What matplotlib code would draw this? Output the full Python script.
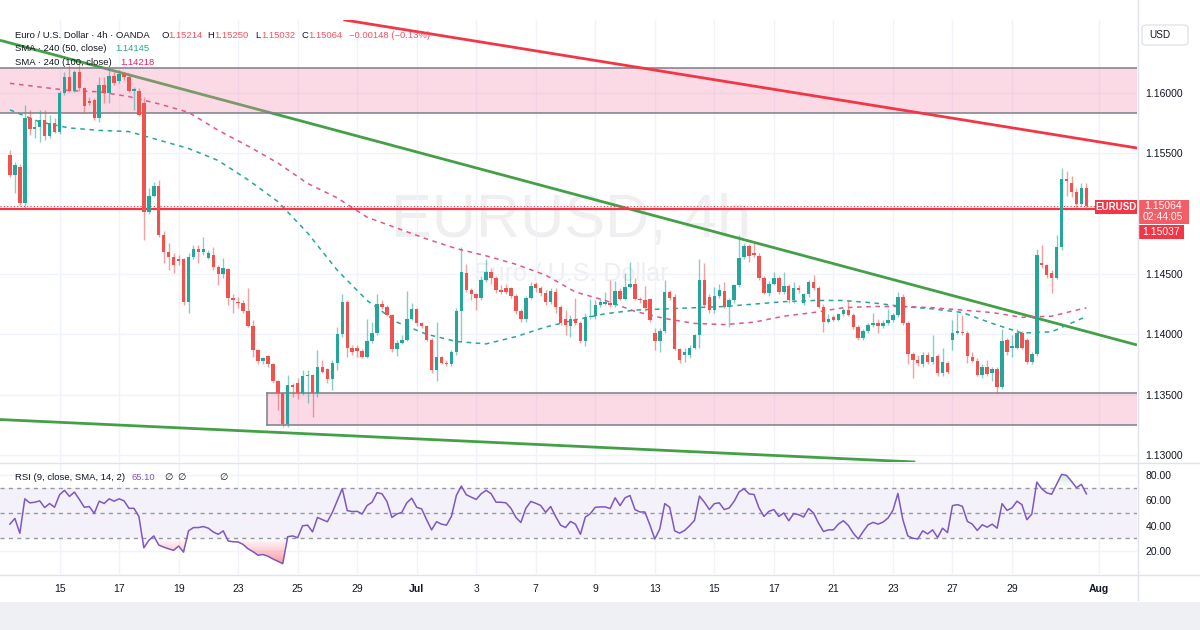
import numpy as np
import matplotlib.pyplot as plt
from matplotlib.patches import Rectangle, FancyBboxPatch, PathPatch
from matplotlib.lines import Line2D
from matplotlib.path import Path
from matplotlib.colors import LinearSegmentedColormap

# EUR/USD 4h candles (OANDA)
opens = [
    1.1549, 1.1532, 1.1539, 1.1509, 1.1579, 1.1570, 1.1572, 1.1578, 1.1564, 1.1575,
    1.1568, 1.1600, 1.1613, 1.1602, 1.1617, 1.1604, 1.1593, 1.1594, 1.1579, 1.1607,
    1.1600, 1.1614, 1.1610, 1.1616, 1.1613, 1.1602, 1.1602, 1.1592, 1.1501, 1.1515,
    1.1523, 1.1482, 1.1468, 1.1464, 1.1462, 1.1462, 1.1427, 1.1464, 1.1471, 1.1468,
    1.1463, 1.1466, 1.1456, 1.1450, 1.1454, 1.1430, 1.1427, 1.1426, 1.1419, 1.1407,
    1.1387, 1.1378, 1.1382, 1.1375, 1.1361, 1.1351, 1.1326, 1.1358, 1.1360, 1.1351,
    1.1365, 1.1366, 1.1351, 1.1373, 1.1371, 1.1363, 1.1376, 1.1400, 1.1427, 1.1389,
    1.1389, 1.1386, 1.1381, 1.1394, 1.1401, 1.1425, 1.1423, 1.1416, 1.1388, 1.1393,
    1.1395, 1.1413, 1.1421, 1.1409, 1.1407, 1.1395, 1.1370, 1.1381, 1.1376, 1.1375,
    1.1385, 1.1419, 1.1451, 1.1437, 1.1433, 1.1430, 1.1445, 1.1452, 1.1447, 1.1437,
    1.1438, 1.1438, 1.1432, 1.1419, 1.1413, 1.1430, 1.1442, 1.1438, 1.1434, 1.1427,
    1.1435, 1.1423, 1.1413, 1.1407, 1.1413, 1.1409, 1.1394, 1.1414, 1.1415, 1.1424,
    1.1425, 1.1426, 1.1424, 1.1436, 1.1429, 1.1439, 1.1442, 1.1429, 1.1428, 1.1429,
    1.1401, 1.1394, 1.1403, 1.1435, 1.1431, 1.1388, 1.1383, 1.1383, 1.1389, 1.1399,
    1.1445, 1.1431, 1.1420, 1.1432, 1.1436, 1.1423, 1.1428, 1.1441, 1.1464, 1.1473,
    1.1467, 1.1465, 1.1447, 1.1434, 1.1442, 1.1447, 1.1435, 1.1440, 1.1428, 1.1438,
    1.1426, 1.1433, 1.1443, 1.1438, 1.1423, 1.1410, 1.1414, 1.1412, 1.1417, 1.1420,
    1.1416, 1.1406, 1.1397, 1.1403, 1.1408, 1.1409, 1.1407, 1.1409, 1.1412, 1.1416,
    1.1431, 1.1409, 1.1384, 1.1379, 1.1375, 1.1383, 1.1377, 1.1382, 1.1368, 1.1376,
    1.1395, 1.1401, 1.1402, 1.1401, 1.1381, 1.1378, 1.1366, 1.1373, 1.1368, 1.1371,
    1.1356, 1.1395, 1.1389, 1.1389, 1.1401, 1.1395, 1.1377, 1.1384, 1.1459, 1.1457,
    1.1451, 1.1447, 1.1472, 1.1529, 1.1525, 1.1518, 1.1508, 1.15214,
]
highs = [
    1.1553, 1.1543, 1.1541, 1.1590, 1.1586, 1.1578, 1.1586, 1.1586, 1.1582, 1.1579,
    1.1602, 1.1617, 1.1623, 1.1619, 1.1625, 1.1605, 1.1597, 1.1596, 1.1613, 1.1613,
    1.1621, 1.1617, 1.1619, 1.1617, 1.1615, 1.1605, 1.1604, 1.1597, 1.1521, 1.1526,
    1.1528, 1.1486, 1.1476, 1.1467, 1.1466, 1.1463, 1.1467, 1.1474, 1.1474, 1.1481,
    1.1470, 1.1472, 1.1457, 1.1463, 1.1455, 1.1433, 1.1431, 1.1428, 1.1438, 1.1412,
    1.1388, 1.1381, 1.1383, 1.1376, 1.1362, 1.1352, 1.1366, 1.1360, 1.1364, 1.1370,
    1.1370, 1.1367, 1.1387, 1.1379, 1.1372, 1.1379, 1.1406, 1.1433, 1.1428, 1.1391,
    1.1391, 1.1388, 1.1413, 1.1410, 1.1433, 1.1428, 1.1424, 1.1417, 1.1395, 1.1399,
    1.1436, 1.1426, 1.1422, 1.1410, 1.1408, 1.1397, 1.1410, 1.1382, 1.1379, 1.1387,
    1.1422, 1.1472, 1.1458, 1.1438, 1.1434, 1.1448, 1.1462, 1.1455, 1.1448, 1.1441,
    1.1442, 1.1439, 1.1433, 1.1421, 1.1432, 1.1443, 1.1443, 1.1440, 1.1437, 1.1438,
    1.1438, 1.1424, 1.1420, 1.1416, 1.1430, 1.1411, 1.1418, 1.1429, 1.1428, 1.1430,
    1.1435, 1.1445, 1.1444, 1.1438, 1.1451, 1.1460, 1.1447, 1.1431, 1.1440, 1.1430,
    1.1405, 1.1405, 1.1445, 1.1437, 1.1433, 1.1389, 1.1389, 1.1391, 1.1400, 1.1462,
    1.1459, 1.1433, 1.1439, 1.1442, 1.1443, 1.1430, 1.1442, 1.1482, 1.1476, 1.1475,
    1.1476, 1.1467, 1.1448, 1.1444, 1.1452, 1.1448, 1.1452, 1.1442, 1.1443, 1.1441,
    1.1434, 1.1445, 1.1449, 1.1440, 1.1425, 1.1417, 1.1416, 1.1418, 1.1422, 1.1428,
    1.1418, 1.1408, 1.1404, 1.1409, 1.1418, 1.1413, 1.1412, 1.1421, 1.1418, 1.1435,
    1.1433, 1.1411, 1.1385, 1.1383, 1.1385, 1.1385, 1.1399, 1.1384, 1.1389, 1.1378,
    1.1412, 1.1418, 1.1416, 1.1403, 1.1385, 1.1380, 1.1375, 1.1379, 1.1373, 1.1373,
    1.1404, 1.1397, 1.1399, 1.1404, 1.1403, 1.1397, 1.1385, 1.1471, 1.1474, 1.1458,
    1.1453, 1.1482, 1.1538, 1.1535, 1.1531, 1.1521, 1.1525, 1.15250,
]
lows = [
    1.1530, 1.1517, 1.1507, 1.1504, 1.1565, 1.1563, 1.1559, 1.1561, 1.1563, 1.1567,
    1.1566, 1.1598, 1.1601, 1.1601, 1.1602, 1.1583, 1.1590, 1.1578, 1.1576, 1.1592,
    1.1592, 1.1607, 1.1608, 1.1611, 1.1601, 1.1586, 1.1581, 1.1478, 1.1500, 1.1514,
    1.1481, 1.1459, 1.1453, 1.1451, 1.1457, 1.1424, 1.1418, 1.1462, 1.1459, 1.1466,
    1.1462, 1.1453, 1.1441, 1.1447, 1.1424, 1.1418, 1.1422, 1.1418, 1.1406, 1.1381,
    1.1375, 1.1375, 1.1373, 1.1360, 1.1337, 1.1323, 1.1323, 1.1348, 1.1346, 1.1350,
    1.1343, 1.1331, 1.1348, 1.1368, 1.1360, 1.1354, 1.1370, 1.1398, 1.1381, 1.1383,
    1.1381, 1.1380, 1.1380, 1.1393, 1.1399, 1.1421, 1.1415, 1.1385, 1.1382, 1.1392,
    1.1394, 1.1412, 1.1407, 1.1405, 1.1394, 1.1368, 1.1361, 1.1375, 1.1374, 1.1374,
    1.1383, 1.1394, 1.1435, 1.1428, 1.1420, 1.1428, 1.1443, 1.1442, 1.1434, 1.1433,
    1.1433, 1.1430, 1.1417, 1.1410, 1.1410, 1.1429, 1.1435, 1.1432, 1.1424, 1.1425,
    1.1418, 1.1408, 1.1399, 1.1398, 1.1408, 1.1393, 1.1390, 1.1413, 1.1413, 1.1423,
    1.1424, 1.1423, 1.1423, 1.1428, 1.1428, 1.1438, 1.1428, 1.1426, 1.1419, 1.1410,
    1.1387, 1.1385, 1.1401, 1.1428, 1.1387, 1.1376, 1.1377, 1.1380, 1.1388, 1.1389,
    1.1423, 1.1418, 1.1418, 1.1430, 1.1422, 1.1406, 1.1426, 1.1439, 1.1462, 1.1460,
    1.1464, 1.1445, 1.1433, 1.1432, 1.1441, 1.1433, 1.1433, 1.1426, 1.1426, 1.1434,
    1.1424, 1.1431, 1.1437, 1.1422, 1.1402, 1.1409, 1.1411, 1.1411, 1.1415, 1.1415,
    1.1404, 1.1395, 1.1395, 1.1401, 1.1406, 1.1401, 1.1405, 1.1408, 1.1410, 1.1414,
    1.1408, 1.1375, 1.1364, 1.1374, 1.1373, 1.1375, 1.1375, 1.1365, 1.1365, 1.1367,
    1.1387, 1.1400, 1.1399, 1.1376, 1.1377, 1.1365, 1.1364, 1.1365, 1.1361, 1.1351,
    1.1355, 1.1383, 1.1381, 1.1388, 1.1388, 1.1375, 1.1375, 1.1382, 1.1455, 1.1447,
    1.1434, 1.1446, 1.1470, 1.1515, 1.1514, 1.1505, 1.1506, 1.15032,
]
closes = [
    1.1532, 1.1540, 1.1509, 1.1579, 1.1570, 1.1572, 1.1578, 1.1564, 1.1575, 1.1568,
    1.1600, 1.1613, 1.1602, 1.1617, 1.1604, 1.1589, 1.1592, 1.1579, 1.1607, 1.1600,
    1.1614, 1.1608, 1.1616, 1.1613, 1.1602, 1.1603, 1.1582, 1.1501, 1.1515, 1.1523,
    1.1482, 1.1468, 1.1464, 1.1457, 1.1461, 1.1427, 1.1464, 1.1471, 1.1468, 1.1471,
    1.1467, 1.1456, 1.1450, 1.1455, 1.1430, 1.1428, 1.1426, 1.1419, 1.1407, 1.1387,
    1.1378, 1.1380, 1.1375, 1.1361, 1.1351, 1.1326, 1.1358, 1.1356, 1.1351, 1.1365,
    1.1366, 1.1351, 1.1373, 1.1369, 1.1363, 1.1376, 1.1400, 1.1427, 1.1389, 1.1385,
    1.1386, 1.1381, 1.1394, 1.1401, 1.1425, 1.1423, 1.1416, 1.1388, 1.1393, 1.1395,
    1.1413, 1.1421, 1.1409, 1.1407, 1.1395, 1.1370, 1.1381, 1.1376, 1.1375, 1.1385,
    1.1419, 1.1452, 1.1437, 1.1433, 1.1430, 1.1445, 1.1452, 1.1447, 1.1437, 1.1435,
    1.1435, 1.1432, 1.1419, 1.1413, 1.1430, 1.1440, 1.1438, 1.1434, 1.1427, 1.1436,
    1.1423, 1.1409, 1.1408, 1.1413, 1.1409, 1.1394, 1.1414, 1.1415, 1.1424, 1.1427,
    1.1427, 1.1424, 1.1436, 1.1429, 1.1439, 1.1442, 1.1429, 1.1428, 1.1422, 1.1412,
    1.1394, 1.1403, 1.1435, 1.1430, 1.1388, 1.1379, 1.1385, 1.1389, 1.1399, 1.1445,
    1.1424, 1.1420, 1.1432, 1.1437, 1.1423, 1.1428, 1.1441, 1.1463, 1.1473, 1.1465,
    1.1466, 1.1447, 1.1434, 1.1442, 1.1447, 1.1435, 1.1440, 1.1428, 1.1438, 1.1437,
    1.1433, 1.1443, 1.1438, 1.1423, 1.1410, 1.1413, 1.1412, 1.1417, 1.1420, 1.1416,
    1.1406, 1.1397, 1.1403, 1.1408, 1.1409, 1.1407, 1.1409, 1.1412, 1.1416, 1.1431,
    1.1409, 1.1384, 1.1379, 1.1376, 1.1383, 1.1377, 1.1381, 1.1368, 1.1377, 1.1369,
    1.1401, 1.1403, 1.1401, 1.1382, 1.1378, 1.1366, 1.1373, 1.1367, 1.1371, 1.1356,
    1.1394, 1.1385, 1.1390, 1.1401, 1.1389, 1.1377, 1.1384, 1.1466, 1.1457, 1.1449,
    1.1447, 1.1472, 1.1529, 1.1527, 1.1518, 1.1508, 1.1521, 1.15064,
]
rsi = [
    41.2, 45.7, 34.0, 61.2, 58.0, 58.5, 59.6, 54.3, 57.5, 54.5,
    64.4, 67.9, 63.1, 66.5, 60.7, 54.5, 55.1, 49.7, 59.3, 57.5,
    61.2, 59.3, 61.2, 59.6, 53.7, 53.7, 47.3, 22.5, 28.4, 31.9,
    24.7, 23.1, 21.7, 20.5, 23.9, 19.1, 35.9, 38.5, 38.5, 39.3,
    38.0, 35.0, 33.2, 35.9, 27.9, 27.3, 27.1, 25.2, 21.7, 19.5,
    16.7, 17.2, 15.9, 13.7, 11.9, 10.0, 31.3, 31.9, 30.5, 39.9,
    40.4, 35.1, 46.5, 44.7, 43.1, 50.5, 59.9, 69.2, 51.9, 51.1,
    51.3, 49.2, 55.9, 58.5, 66.0, 65.2, 59.1, 46.5, 49.2, 50.5,
    58.0, 61.7, 54.5, 53.2, 44.7, 36.7, 43.1, 41.2, 40.4, 47.3,
    63.9, 71.3, 64.4, 62.5, 60.7, 65.2, 67.9, 65.2, 58.5, 58.5,
    58.0, 53.7, 46.5, 42.5, 53.7, 59.1, 57.7, 55.9, 50.5, 55.1,
    47.3, 40.4, 38.5, 43.3, 41.2, 33.2, 46.8, 49.5, 54.5, 54.8,
    54.8, 53.5, 62.0, 55.8, 62.0, 63.8, 52.7, 50.8, 50.8, 40.7,
    29.5, 37.3, 57.4, 54.5, 35.9, 34.1, 36.2, 39.9, 44.2, 63.3,
    58.5, 52.7, 57.4, 58.0, 52.7, 54.0, 59.3, 66.7, 69.1, 65.1,
    64.6, 54.0, 47.3, 51.3, 52.7, 47.3, 50.0, 43.9, 49.5, 48.7,
    46.8, 53.5, 50.0, 42.0, 35.4, 36.7, 36.7, 41.2, 43.9, 40.2,
    34.1, 29.5, 35.4, 40.7, 42.6, 41.2, 42.8, 46.0, 52.1, 65.4,
    44.7, 31.9, 30.1, 29.5, 35.9, 33.5, 36.7, 30.6, 38.0, 34.6,
    55.8, 56.6, 55.3, 43.4, 41.2, 36.2, 40.7, 38.8, 41.2, 38.0,
    57.4, 52.1, 54.0, 59.3, 56.6, 44.7, 49.2, 74.4, 69.1, 65.9,
    64.8, 72.6, 80.5, 79.7, 75.0, 69.9, 72.6, 65.1,
]
# SMA readings, one per trading day plus the last bar
sma_at = list(range(0, 217, 6)) + [217]
sma50 = [1.1586, 1.1576, 1.1571, 1.1569, 1.1568, 1.1561, 1.1554, 1.1544, 1.1528, 1.1510,
         1.1484, 1.1453, 1.1428, 1.1410, 1.1400, 1.1394, 1.1392, 1.1398, 1.1406, 1.1412,
         1.1417, 1.1420, 1.1421, 1.1422, 1.1423, 1.1425, 1.1427, 1.1428, 1.1428, 1.1426,
         1.1423, 1.1421, 1.1418, 1.1409, 1.1401, 1.1402, 1.1413, 1.14145]
sma100 = [1.1608, 1.1605, 1.1602, 1.1601, 1.1597, 1.1591, 1.1584, 1.1569, 1.1556, 1.1542,
          1.1525, 1.1513, 1.1497, 1.1488, 1.1479, 1.1471, 1.1465, 1.1458, 1.1449, 1.1435,
          1.1428, 1.1419, 1.1413, 1.1409, 1.1408, 1.1410, 1.1415, 1.1418, 1.1422, 1.1423,
          1.1423, 1.1422, 1.1420, 1.1418, 1.1414, 1.1415, 1.1421, 1.14218]
change = -0.00148
change_pct = -0.13

day_ticks = [10, 22, 34, 46, 58, 70, 82, 94, 106, 118, 130, 142, 154, 166, 178, 190, 202, 219.5]
day_labels = ["15", "17", "19", "23", "25", "29", "Jul", "3", "7", "9", "13", "15", "17",
              "21", "23", "27", "29", "Aug"]
price_ticks = [1.13, 1.135, 1.14, 1.145, 1.155, 1.16]
rsi_ticks = [20, 40, 60, 80]

# drawn objects: zones, trend lines, level
zone_upper = (1.15834, 1.16207)
zone_lower = (1.13248, 1.13513)
zone_lower_from = 51.8
green_upper = ([-2.0, 227.2], [1.16437, 1.13911])
green_lower = ([-2.0, 182.5], [1.13293, 1.12941])
red_line = ([67.5, 227.2], [1.16605, 1.15544])
level = 1.15037

UP = "#26a69a"
DOWN = "#ef5350"
TXT = "#131722"
GRID = "#f0f3fa"
SEP = "#e0e3eb"

W, H = 1200, 630
plt.rcParams['font.family'] = ['Liberation Sans', 'DejaVu Sans']
fig = plt.figure(figsize=(12, 6.3), dpi=100)


def fpos(x, y):
    return x / W, 1 - y / H


def frect(x0, y0, x1, y1):
    return [x0 / W, 1 - y1 / H, (x1 - x0) / W, (y1 - y0) / H]


ax = fig.add_axes(frect(0, 20, 1137, 462))
rax = fig.add_axes(frect(0, 463, 1137, 574), sharex=ax)
XMIN, XMAX = -2.0, 227.2

o = np.array(opens)
hi = np.array(highs)
lo = np.array(lows)
c = np.array(closes)
x = np.arange(len(c))
cols = np.where(c >= o, UP, DOWN)

# watermark
ax.text(0.502, 0.545, "EURUSD, 4h", transform=ax.transAxes, ha="center", va="center",
        fontsize=44, color="#efeff1", zorder=0.5)
ax.text(0.502, 0.425, "Euro / U.S. Dollar", transform=ax.transAxes, ha="center", va="center",
        fontsize=18, color="#efeff1", zorder=0.5)

# trend lines and zones
ax.plot(*green_upper, color="#43a047", lw=2, zorder=1, solid_capstyle="butt")
ax.plot(*green_lower, color="#43a047", lw=2, zorder=1, solid_capstyle="butt")
for (p0, p1), xs in ((zone_upper, XMIN - 1), (zone_lower, zone_lower_from)):
    ax.add_patch(Rectangle((xs, p0), XMAX - xs + 1, p1 - p0,
                           facecolor=(0.96, 0.55, 0.70, 0.32), edgecolor="none", zorder=2))
    ax.plot([xs, XMAX + 1], [p0, p0], color="#7b7e88", lw=1.1, zorder=2.1)
    ax.plot([xs, XMAX + 1], [p1, p1], color="#7b7e88", lw=1.1, zorder=2.1)
ax.plot([zone_lower_from, zone_lower_from], zone_lower, color="#7b7e88", lw=1.1, zorder=2.1)

# moving averages
ax.plot(sma_at, sma50, color="#26a69a", lw=1.1, ls=(0, (3, 3)), zorder=2.5)
ax.plot(sma_at, sma100, color="#e0578a", lw=1.1, ls=(0, (3, 3)), zorder=2.5)

# level and last-price lines
ax.axhline(level, color="#f23645", lw=1.6, zorder=2.6)
ax.axhline(closes[-1], color="#f23645", lw=0.8, ls=(0, (1, 2)), zorder=2.6)

# candles
ax.vlines(x, lo, hi, colors=cols, lw=1, alpha=0.55, zorder=3)
body = np.maximum(np.abs(c - o), 0.00003)
ax.bar(x, body, bottom=np.minimum(o, c), width=0.7, color=cols, lw=0, zorder=4)

ax.plot(*red_line, color="#f23645", lw=2, zorder=5)

ax.set_xlim(XMIN, XMAX)
ax.set_ylim(1.12941, 1.16605)
ax.set_yticks(price_ticks)
ax.set_yticklabels([f"{p:.5f}" for p in price_ticks])
ax.yaxis.tick_right()
ax.tick_params(axis="y", length=0, pad=6, labelsize=7.5, labelcolor=TXT)
ax.tick_params(axis="x", length=0, labelbottom=False)
ax.grid(True, color=GRID, lw=1, zorder=0)
ax.set_axisbelow(True)
for s in ax.spines.values():
    s.set_visible(False)

# RSI pane
r = np.array(rsi)
rax.axhspan(30, 70, color="#7e57c2", alpha=0.08, lw=0, zorder=0.5)
for lv in (70, 50, 30):
    rax.axhline(lv, color="#9598a1", lw=1, ls=(0, (3, 3)), zorder=1)


def grad_fill(cond, base, y0, y1, rgb, a_lo, a_hi):
    poly = rax.fill_between(x, r, base, where=cond, interpolate=True, color="none", lw=0)
    paths = poly.get_paths()
    if not paths:
        return
    clip = PathPatch(Path.make_compound_path(*paths), transform=rax.transData,
                     facecolor="none", edgecolor="none")
    rax.add_patch(clip)
    cmap = LinearSegmentedColormap.from_list("g", [rgb + (a_lo,), rgb + (a_hi,)])
    im = rax.imshow(np.linspace(0, 1, 256)[:, None], cmap=cmap, aspect="auto", origin="lower",
                    extent=[XMIN, XMAX, y0, y1], zorder=1.5, interpolation="bilinear")
    im.set_clip_path(clip)


grad_fill(r < 30, 30, 0, 30, (0.95, 0.21, 0.27), 0.75, 0.0)
grad_fill(r > 70, 70, 70, 100, (0.30, 0.69, 0.31), 0.0, 0.75)
rax.plot(x, r, color="#7e57c2", lw=1.1, zorder=2)

rax.set_xlim(XMIN, XMAX)
rax.set_ylim(1.84, 89.47)
rax.set_yticks(rsi_ticks)
rax.set_yticklabels([f"{v:.2f}" for v in rsi_ticks])
rax.yaxis.tick_right()
rax.tick_params(axis="y", length=0, pad=6, labelsize=7.5, labelcolor=TXT)
rax.set_xticks(day_ticks)
rax.set_xticklabels(day_labels)
rax.tick_params(axis="x", length=0, pad=7, labelsize=7.5, labelcolor=TXT)
for t in rax.get_xticklabels():
    if t.get_text() in ("Jul", "Aug"):
        t.set_fontweight("bold")
rax.grid(True, color=GRID, lw=1, zorder=0)
rax.set_axisbelow(True)
for s in rax.spines.values():
    s.set_visible(False)

# pane separators and frame
fig.add_artist(Line2D([0, 1], [1 - 462.5 / H] * 2, color=SEP, lw=1))
fig.add_artist(Line2D([0, 1], [1 - 574.5 / H] * 2, color=SEP, lw=1))
fig.add_artist(Line2D([1137.5 / W] * 2, [1 - 600 / H, 1 - 0 / H], color=SEP, lw=1))
fig.add_artist(Rectangle((0, 0), 1, 1 - 602 / H, transform=fig.transFigure,
                         facecolor="#eef0f3", edgecolor="none"))

# legend / header texts
fs = 6.8
fig.text(*fpos(15, 35), "Euro / U.S. Dollar · 4h · OANDA", fontsize=fs, color=TXT, va="center")
red_txt = "#f7525f"
for px_l, px_v, letter, val in ((161, 168, "O", opens[-1]), (207, 214, "H", highs[-1]),
                                (255, 261, "L", lows[-1]), (301, 308, "C", closes[-1])):
    fig.text(*fpos(px_l, 35), letter, fontsize=fs, color=TXT, va="center")
    fig.text(*fpos(px_v, 35), f"{val:.5f}", fontsize=fs, color=red_txt, va="center")
fig.text(*fpos(349, 35), f"\u2212{abs(change):.5f} (\u2212{abs(change_pct):.2f}%)",
         fontsize=fs, color=red_txt, va="center")
fig.text(*fpos(15, 48.5), "SMA · 240 (50, close)", fontsize=fs, color=TXT, va="center")
fig.text(*fpos(115, 48.5), f"{sma50[-1]:.5f}", fontsize=fs, color="#22ab94", va="center")
fig.text(*fpos(15, 62.5), "SMA · 240 (100, close)", fontsize=fs, color=TXT, va="center")
fig.text(*fpos(120, 62.5), f"{sma100[-1]:.5f}", fontsize=fs, color="#e91e63", va="center")

fig.text(*fpos(15, 477), "RSI (9, close, SMA, 14, 2)", fontsize=fs, color=TXT, va="center")
fig.text(*fpos(131, 477), f"{rsi[-1]:.2f}", fontsize=fs, color="#7e57c2", va="center")
for px in (164, 177, 219):
    fig.text(*fpos(px, 477), "\u2205", fontsize=fs, color=TXT, va="center",
             family=["DejaVu Sans"])

# price-axis boxes
fig.add_artist(FancyBboxPatch(fpos(1142, 45), 46 / W, 20 / H, boxstyle="round,pad=0,rounding_size=0.004",
                              transform=fig.transFigure, facecolor="white", edgecolor=SEP, lw=1))
fig.text(*fpos(1149, 35.5), "USD", fontsize=7.2, color=TXT, va="center")

fig.add_artist(Rectangle(fpos(1095, 214), 42 / W, 14 / H, transform=fig.transFigure,
                         facecolor="#f23645", edgecolor="none"))
fig.text(*fpos(1116, 207.5), "EURUSD", fontsize=7, color="white", ha="center", va="center",
         fontweight="bold")
fig.add_artist(Rectangle(fpos(1138, 224), 51 / W, 24 / H, transform=fig.transFigure,
                         facecolor="#f25d66", edgecolor="none"))
fig.text(*fpos(1163, 206), f"{closes[-1]:.5f}", fontsize=7.5, color="white", ha="center", va="center")
fig.text(*fpos(1163, 217), "02:44:05", fontsize=7.5, color="white", ha="center", va="center")
fig.add_artist(Rectangle(fpos(1138, 238.5), 46 / W, 13 / H, transform=fig.transFigure,
                         facecolor="#f23645", edgecolor="none"))
fig.text(*fpos(1161, 232), f"{level:.5f}", fontsize=7.5, color="white", ha="center", va="center")

fig.savefig("out.png", dpi=100)
